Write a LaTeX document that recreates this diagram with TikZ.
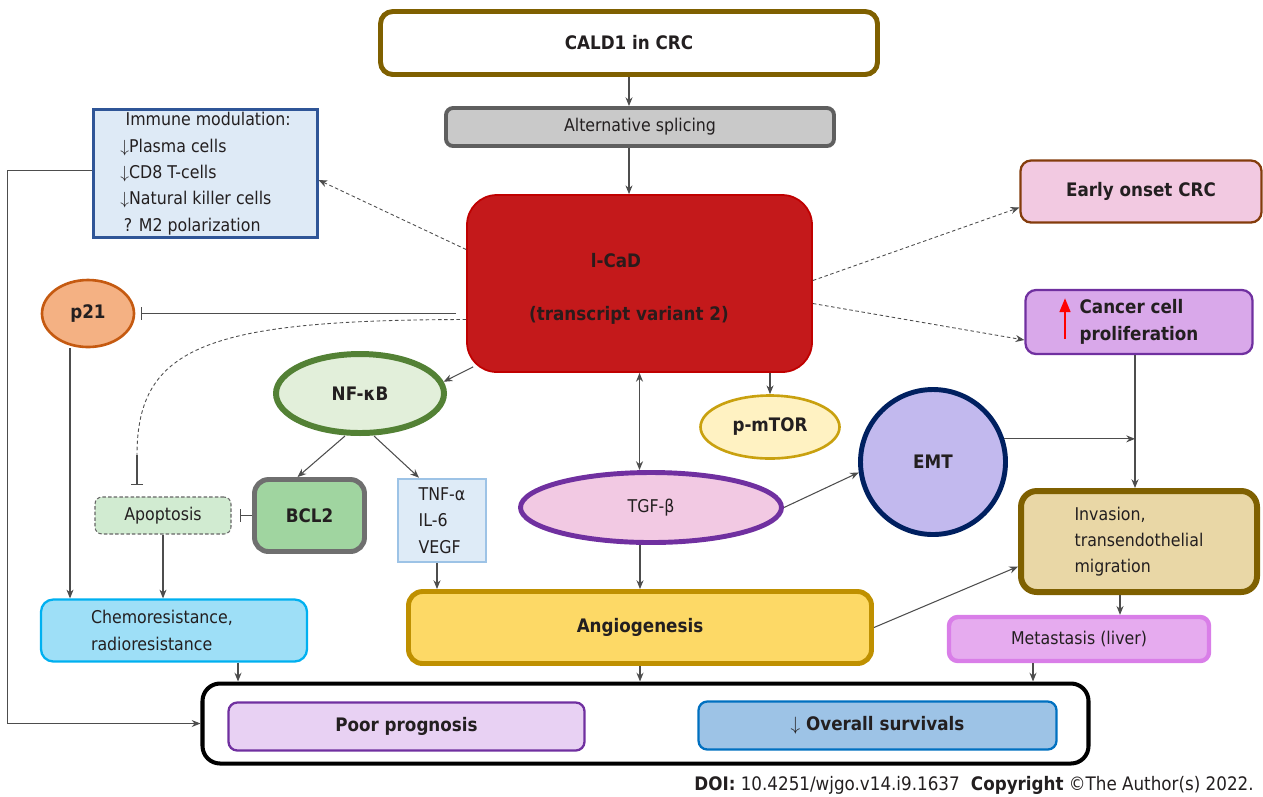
\documentclass[tikz,border=0pt]{standalone}
\usepackage{fontspec}
\setmainfont{DejaVu Sans Condensed}
\usetikzlibrary{arrows.meta,shapes.geometric,positioning}

\newcommand{\pxu}{0.02cm}

\definecolor{ink}{HTML}{231F20}
\definecolor{wire}{HTML}{4D4D4D}
\definecolor{caldedge}{HTML}{7F6000}
\definecolor{splicefill}{HTML}{C9C9C9}
\definecolor{spliceedge}{HTML}{5F5F5F}
\definecolor{lcadfill}{HTML}{C4191B}
\definecolor{lcadedge}{HTML}{C00000}
\definecolor{lcadink}{HTML}{2B1B1B}
\definecolor{immunefill}{HTML}{DEEAF6}
\definecolor{immuneedge}{HTML}{2F5597}
\definecolor{earlyfill}{HTML}{F2C9E1}
\definecolor{earlyedge}{HTML}{843C0C}
\definecolor{cancerfill}{HTML}{D9A8EA}
\definecolor{canceredge}{HTML}{7030A0}
\definecolor{p21fill}{HTML}{F4B183}
\definecolor{p21edge}{HTML}{C55A11}
\definecolor{nffill}{HTML}{E2EFDA}
\definecolor{nfedge}{HTML}{538135}
\definecolor{mtorfill}{HTML}{FFF2C2}
\definecolor{mtoredge}{HTML}{C9A10F}
\definecolor{emtfill}{HTML}{C2B9EE}
\definecolor{emtedge}{HTML}{002060}
\definecolor{tgffill}{HTML}{F2C9E3}
\definecolor{tgfedge}{HTML}{7030A0}
\definecolor{apofill}{HTML}{D1EBD1}
\definecolor{apoedge}{HTML}{666666}
\definecolor{bclfill}{HTML}{A0D5A0}
\definecolor{bcledge}{HTML}{6F6F6F}
\definecolor{tnffill}{HTML}{DEEBF7}
\definecolor{tnfedge}{HTML}{9DC3E6}
\definecolor{invfill}{HTML}{E9D7A6}
\definecolor{invedge}{HTML}{7F6000}
\definecolor{chemofill}{HTML}{9EDFF7}
\definecolor{chemoedge}{HTML}{00B0F0}
\definecolor{angiofill}{HTML}{FDD966}
\definecolor{angioedge}{HTML}{BF9000}
\definecolor{metafill}{HTML}{E6ABEF}
\definecolor{metaedge}{HTML}{D97EE8}
\definecolor{poorfill}{HTML}{E8D1F3}
\definecolor{pooredge}{HTML}{7030A0}
\definecolor{survfill}{HTML}{9DC3E6}
\definecolor{survedge}{HTML}{0070C0}

\tikzset{
  txt/.style={font=\fontsize{10}{15}\selectfont},
  btxt/.style={font=\fontsize{10.6}{15}\selectfont\bfseries},
  box/.style={draw, rectangle, align=center, inner sep=0pt, text=ink},
  oval/.style={draw, ellipse, align=center, inner sep=0pt, text=ink},
  arr/.style={draw=wire, line width=0.6pt, -{Stealth[length=5pt,width=4pt]}},
  inh/.style={draw=wire, line width=0.6pt, -{Bar[width=7pt]}},
  dotarr/.style={arr, line width=0.5pt, dash pattern=on 2pt off 1.5pt},
  uparrow/.style={red, line width=1.6pt, -{Triangle[length=8pt,width=6pt]}},
}

\begin{document}
\begin{tikzpicture}[x=\pxu,y=-\pxu]
\useasboundingbox (0,0) rectangle (1263,796);

\node[box, btxt, draw=caldedge, line width=2.8pt, rounded corners=7pt, minimum width=497*\pxu, minimum height=63*\pxu] (cald) at (629,43) {CALD1 in CRC};
\node[box, txt, fill=splicefill, draw=spliceedge, line width=2.2pt, rounded corners=4pt, minimum width=388*\pxu, minimum height=38*\pxu] (alt) at (640,127) {Alternative splicing};

\node[box, fill=lcadfill, draw=lcadedge, line width=1pt, rounded corners=17pt, minimum width=345*\pxu, minimum height=177*\pxu] (lcad) at (639.5,283.5) {};
\node[font=\fontsize{10.6}{15}\selectfont\bfseries, text=lcadink] (lcadname) at (616,261) {l-CaD};
\node[font=\fontsize{10.6}{15}\selectfont\bfseries, text=lcadink] (lcadvar) at (629,315) {(transcript variant 2)};

\node[box, txt, align=left, fill=immunefill, draw=immuneedge, line width=1.2pt, minimum width=224*\pxu, minimum height=128*\pxu] (immune) at (205.5,173.5) {\hspace{3pt}Immune modulation:\\$\downarrow$Plasma cells\\$\downarrow$CD8 T-cells\\$\downarrow$Natural killer cells\\\hspace{2pt}? M2 polarization};

\node[box, btxt, fill=earlyfill, draw=earlyedge, line width=1.3pt, rounded corners=6pt, minimum width=241*\pxu, minimum height=62*\pxu] (early) at (1141,191.5) {Early onset CRC};
\node[box, btxt, align=left, fill=cancerfill, draw=canceredge, line width=1.3pt, rounded corners=6pt, minimum width=227*\pxu, minimum height=64*\pxu] (cancer) at (1139,322) {Cancer cell\\proliferation};
\draw[uparrow] (1065,339) -- (1065,298);

\node[oval, btxt, fill=p21fill, draw=p21edge, line width=1.5pt, minimum width=92*\pxu, minimum height=67*\pxu] (p21) at (88,313.5) {p21};
\node[oval, btxt, fill=nffill, draw=nfedge, line width=3.4pt, minimum width=168*\pxu, minimum height=79*\pxu] (nfkb) at (360,393.5) {NF-κB};
\node[oval, btxt, fill=mtorfill, draw=mtoredge, line width=1.5pt, minimum width=139*\pxu, minimum height=63*\pxu] (pmtor) at (770,427) {p-mTOR};
\node[circle, draw, btxt, text=ink, inner sep=0pt, fill=emtfill, draw=emtedge, line width=2.8pt, minimum size=145*\pxu] (emt) at (933,462) {EMT};
\node[oval, txt, fill=tgffill, draw=tgfedge, line width=2.8pt, minimum width=261*\pxu, minimum height=70*\pxu] (tgf) at (651,507.5) {TGF-β};

\node[box, txt, fill=apofill, draw=apoedge, line width=0.6pt, dash pattern=on 2pt off 1.2pt, rounded corners=4pt, minimum width=136*\pxu, minimum height=37*\pxu] (apop) at (163,515.5) {Apoptosis};
\node[box, btxt, fill=bclfill, draw=bcledge, line width=2.8pt, rounded corners=8pt, minimum width=110*\pxu, minimum height=72*\pxu] (bcl2) at (309.5,515.5) {BCL2};
\node[box, txt, align=left, fill=tnffill, draw=tnfedge, line width=1.5pt, minimum width=88*\pxu, minimum height=83*\pxu] (tnf) at (442,520.5) {TNF-α\\IL-6\\VEGF};

\node[box, txt, align=left, fill=invfill, draw=invedge, line width=3.4pt, rounded corners=9pt, minimum width=236*\pxu, minimum height=101*\pxu] (inv) at (1139,541.5) {Invasion,\\transendothelial\\migration};
\node[box, txt, align=left, text width=166*\pxu, inner xsep=50*\pxu, fill=chemofill, draw=chemoedge, line width=1.3pt, rounded corners=7pt, minimum height=62*\pxu] (chemo) at (174,630.5) {Chemoresistance,\\radioresistance};
\node[box, btxt, fill=angiofill, draw=angioedge, line width=2.8pt, rounded corners=8pt, minimum width=463*\pxu, minimum height=72*\pxu] (angio) at (640,627.5) {Angiogenesis};
\node[box, txt, fill=metafill, draw=metaedge, line width=2.5pt, rounded corners=5pt, minimum width=260*\pxu, minimum height=44*\pxu] (meta) at (1079,639) {Metastasis (liver)};

\node[box, draw=black, line width=2.3pt, rounded corners=10pt, minimum width=886*\pxu, minimum height=80*\pxu] (outer) at (645.5,723.5) {};
\node[box, btxt, fill=poorfill, draw=pooredge, line width=1.3pt, rounded corners=5pt, minimum width=356*\pxu, minimum height=48*\pxu] (poor) at (406.5,726.5) {Poor prognosis};
\node[box, btxt, fill=survfill, draw=survedge, line width=1.3pt, rounded corners=5pt, minimum width=358*\pxu, minimum height=48*\pxu] (surv) at (877.5,725.5) {{\mdseries$\downarrow$}\ Overall survivals};

\node[font=\fontsize{10.6}{15}\selectfont, anchor=east, text=ink, inner sep=0pt] (doi) at (1254,785) {\textbf{DOI:} 10.4251/wjgo.v14.i9.1637\hspace{0.6em}\textbf{Copyright} ©The Author(s) 2022.};

% links
\draw[arr] (cald.south) -- (cald.south |- alt.north);
\draw[arr] (alt.south -| cald.south) -- (cald.south |- lcad.north);
\draw[dotarr] ([yshift=34*\pxu]lcad.west) -- ([yshift=-6.5*\pxu]immune.east);
\draw[dotarr] ([yshift=3*\pxu]lcad.east) -- ([yshift=-16*\pxu]early.west);
\draw[dotarr] ([yshift=-20*\pxu]lcad.east) -- ([yshift=-18*\pxu]cancer.west);
\draw[inh, shorten <=0.2cm, shorten >=0.12cm] (lcad.west |- p21.east) -- (p21.east);

\coordinate (apbend) at (137,455);
\draw[draw=wire, line width=0.5pt, dash pattern=on 2pt off 1.5pt] ([yshift=-36*\pxu]lcad.west) .. controls (210,320) and (137,345) .. (apbend);
\draw[inh, shorten >=0.22cm] (apbend) -- (apbend |- apop.north);

\draw[arr] ([xshift=7*\pxu,yshift=6*\pxu]lcad.south west) -- (nfkb.8);
\draw[arr] (lcad.south -| pmtor.north) -- (pmtor.north);
\draw[{Stealth[length=5pt,width=4pt]}-{Stealth[length=5pt,width=4pt]}, draw=wire, line width=0.6pt] (lcad.south) -- (lcad.south |- tgf.north);
\draw[arr] ([xshift=-15*\pxu]nfkb.south) -- ([xshift=-12*\pxu]bcl2.north);
\draw[arr] ([xshift=14*\pxu]nfkb.south) -- ([xshift=-23*\pxu]tnf.north);
\draw[inh, shorten >=0.16cm] (bcl2.west) -- (apop.east);

\coordinate (p21out) at ([xshift=-18*\pxu]p21.south);
\draw[arr] (p21out) -- (p21out |- chemo.north);
\draw[arr] (apop.south) -- (apop.south |- chemo.north);
\draw[arr] ([xshift=-5*\pxu]tnf.south) -- ([xshift=-5*\pxu]tnf.south |- angio.north);
\draw[arr] (tgf.south -| angio.north) -- (angio.north);
\draw[arr] (tgf.east) -- (emt.188);

\coordinate (join) at ([xshift=-4*\pxu]cancer.south);
\draw[arr] (emt.18) -- (emt.18 -| join);
\draw[arr] (join) -- (join |- inv.north);
\draw[arr] (angio.east) -- ([yshift=-25*\pxu]inv.west);

\coordinate (invout) at ([xshift=-19*\pxu]inv.south);
\draw[arr] (invout) -- (invout |- meta.north);
\coordinate (chemoout) at ([xshift=64*\pxu]chemo.south);
\draw[arr] (chemoout) -- (chemoout |- outer.north);
\draw[arr] (angio.south) -- (angio.south |- outer.north);
\coordinate (metaout) at ([xshift=-46*\pxu]meta.south);
\draw[arr] (metaout) -- (metaout |- outer.north);
\draw[arr] ([yshift=3*\pxu]immune.west) -- ++(-85,0) |- (outer.west);

\end{tikzpicture}
\end{document}
